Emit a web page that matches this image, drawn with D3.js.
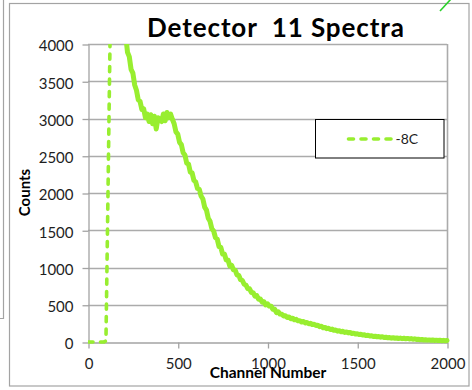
<!DOCTYPE html>
<html>
<head>
<meta charset="utf-8">
<script src="https://cdn.jsdelivr.net/npm/d3@7"></script>
<style>
  html, body { margin: 0; padding: 0; background: #fff; }
  svg { display: block; font-family: Lato, "Open Sans", sans-serif; }
</style>
</head>
<body>
<svg id="chart" width="472" height="390"></svg>
<script>
// ---- chart text ----
const chartTitle = "Detector  11 Spectra";
const xTitle = "Channel Number";
const yTitle = "Counts";
const seriesName = "-8C";

// ---- axis ticks ----
const xTicks = [0, 500, 1000, 1500, 2000];
const yTicks = [0, 500, 1000, 1500, 2000, 2500, 3000, 3500, 4000];

// ---- spectrum: one reading every 10 channels, channel 0 .. 2000 ----
const channels = d3.range(0, 2001, 10);
const counts = [
  0, 0, 0, 0, 0, 0, 0, 0, 0, 1,                              // 0 - 90
  15, 1750, 3550, 5300, 6600, 6900, 6500, 5900, 5300, 4800,  // 100 - 190
  4400, 4120, 3890, 3830, 3660, 3610, 3450, 3380, 3250, 3230, // 200 - 290
  3120, 3130, 3010, 3060, 2960, 3050, 2930, 3030, 2860, 3010, // 300 - 390
  2990, 2960, 3060, 2970, 3080, 3010, 3060, 2990, 2930, 2820, // 400 - 490
  2790, 2680, 2650, 2540, 2510, 2400, 2390, 2280, 2270, 2170, // 500 - 590
  2150, 2060, 2050, 1960, 1920, 1810, 1770, 1660, 1620, 1520, // 600 - 690
  1490, 1400, 1380, 1280, 1270, 1180, 1180, 1100, 1100, 1020, // 700 - 790
  1030, 970, 965, 900, 895, 835, 825, 775, 765, 715,          // 800 - 890
  715, 665, 662, 615, 622, 575, 578, 535, 540, 498,           // 900 - 990
  512, 482, 480, 438, 440, 395, 405, 375, 372, 350,           // 1000 - 1090
  352, 328, 336, 312, 320, 298, 305, 284, 286, 268,           // 1100 - 1190
  276, 256, 261, 244, 250, 234, 237, 222, 226, 206,           // 1200 - 1290
  211, 192, 196, 179, 184, 167, 173, 157, 160, 146,           // 1300 - 1390
  150, 138, 144, 129, 135, 122, 127, 114, 119, 106,           // 1400 - 1490
  111, 101, 104, 93, 96, 86, 90, 80, 84, 74,                  // 1500 - 1590
  78, 69, 73, 65, 70, 60, 64, 56, 60, 52,                     // 1600 - 1690
  57, 50, 54, 47, 52, 45, 50, 43, 48, 41,                     // 1700 - 1790
  46, 38, 42, 34, 38, 30, 34, 27, 31, 25,                     // 1800 - 1890
  28, 23, 27, 21, 25, 20, 23, 18, 22, 17,                     // 1900 - 1990
  20                                                          // 2000
];

const lineColor = "#98ee30";
const frameColor = "#a3a3a3";
const gridColor = "#ababab";
const textColor = "#1e1e1e";

const svg = d3.select("#chart");
const plot = { left: 88, right: 447, top: 44, bottom: 342 };

const x = d3.scaleLinear().domain([0, 2000]).range([plot.left, plot.right]);
const y = d3.scaleLinear().domain([0, 4000]).range([plot.bottom, plot.top]);

// ---- outer frames ----
svg.append("path")
  .attr("d", "M0,318.5 H3.5 V0")
  .attr("fill", "none").attr("stroke", frameColor).attr("stroke-width", 1.2);
svg.append("rect")
  .attr("x", 9.5).attr("y", 3.5).attr("width", 459.5).attr("height", 382.5)
  .attr("fill", "#fff").attr("stroke", frameColor).attr("stroke-width", 1.2);
svg.append("line")
  .attr("x1", 440).attr("y1", 11).attr("x2", 451).attr("y2", -1)
  .attr("stroke", "#2bd12b").attr("stroke-width", 1.6);

// ---- title ----
svg.append("text")
  .attr("x", 275.5).attr("y", 37)
  .attr("text-anchor", "middle")
  .style("white-space", "pre")
  .attr("font-size", 26).attr("font-weight", "bold").attr("fill", "#000")
  .attr("textLength", 257).attr("lengthAdjust", "spacing")
  .text(chartTitle);

// ---- gridlines ----
svg.append("g").selectAll("line")
  .data(yTicks.filter(d => d > 0))
  .join("line")
  .attr("x1", plot.left).attr("x2", plot.right)
  .attr("y1", d => Math.round(y(d)) + 0.5).attr("y2", d => Math.round(y(d)) + 0.5)
  .attr("stroke", gridColor).attr("stroke-width", 1.3);

// plot area right edge
svg.append("line")
  .attr("x1", plot.right + 0.5).attr("x2", plot.right + 0.5)
  .attr("y1", plot.top).attr("y2", plot.bottom)
  .attr("stroke", gridColor).attr("stroke-width", 1.6);

// ---- axes ----
const yAxis = svg.append("g")
  .attr("transform", `translate(${plot.left + 0.5},0.5)`)
  .call(d3.axisLeft(y).tickValues(yTicks).tickSize(6).tickSizeOuter(0).tickPadding(9)
    .tickFormat(d3.format("d")));
const xAxis = svg.append("g")
  .attr("transform", `translate(0.5,${plot.bottom + 0.5})`)
  .call(d3.axisBottom(x).tickValues(xTicks).tickSize(6).tickSizeOuter(0).tickPadding(10)
    .tickFormat(d3.format("d")));

[yAxis, xAxis].forEach(g => {
  g.select(".domain").attr("stroke", frameColor).attr("stroke-width", 1.3);
  g.selectAll(".tick line").attr("stroke", frameColor).attr("stroke-width", 1.3);
  g.selectAll(".tick text")
    .attr("font-family", "Lato, 'Open Sans', sans-serif")
    .attr("font-size", 15).attr("fill", textColor);
});
yAxis.selectAll(".tick text").attr("dy", "0.42em");
xAxis.selectAll(".tick text").attr("dy", "0.71em");

// ---- axis titles ----
svg.append("text")
  .attr("transform", "translate(29.5,192.5) rotate(-90)")
  .attr("text-anchor", "middle")
  .attr("font-size", 15).attr("font-weight", "bold").attr("fill", "#000")
  .text(yTitle);

// ---- series ----
svg.append("clipPath").attr("id", "plot-clip")
  .append("rect")
  .attr("x", plot.left).attr("y", plot.top)
  .attr("width", plot.right - plot.left + 4).attr("height", plot.bottom - plot.top + 4);

const line = d3.line()
  .x(d => x(d.ch))
  .y(d => y(d.n));
const points = channels.map((ch, i) => ({ ch, n: counts[i] }));

const series = svg.append("g").attr("clip-path", "url(#plot-clip)");

// past the edge the per-channel counts are so dense and noisy that the
// dashed line fills in to a continuous band
series.append("path")
  .datum(points.filter(d => d.ch >= 200))
  .attr("d", line)
  .attr("fill", "none")
  .attr("stroke", lineColor)
  .attr("stroke-width", 5)
  .attr("stroke-linejoin", "round")
  .attr("stroke-linecap", "round");

series.append("path")
  .datum(points)
  .attr("d", line)
  .attr("fill", "none")
  .attr("stroke", lineColor)
  .attr("stroke-width", 3.6)
  .attr("stroke-linecap", "round")
  .attr("stroke-linejoin", "round")
  .attr("stroke-dasharray", "5,7.5");

// x-axis title sits over the 1000 label
svg.append("text")
  .attr("x", 268).attr("y", 377.5)
  .attr("text-anchor", "middle")
  .attr("font-size", 15.5).attr("font-weight", "bold").attr("fill", "#000")
  .text(xTitle);

// ---- legend ----
const legend = svg.append("g");
legend.append("rect")
  .attr("x", 315.5).attr("y", 119.5).attr("width", 128.5).attr("height", 38.5)
  .attr("fill", "#fff").attr("stroke", "#000").attr("stroke-width", 1);
legend.append("line")
  .attr("x1", 348.5).attr("x2", 391).attr("y1", 139).attr("y2", 139)
  .attr("stroke", lineColor).attr("stroke-width", 3.6)
  .attr("stroke-linecap", "round").attr("stroke-dasharray", "5,7.5");
legend.append("text")
  .attr("x", 395.5).attr("y", 144)
  .attr("font-size", 14).attr("fill", textColor)
  .text(seriesName);
</script>
</body>
</html>
